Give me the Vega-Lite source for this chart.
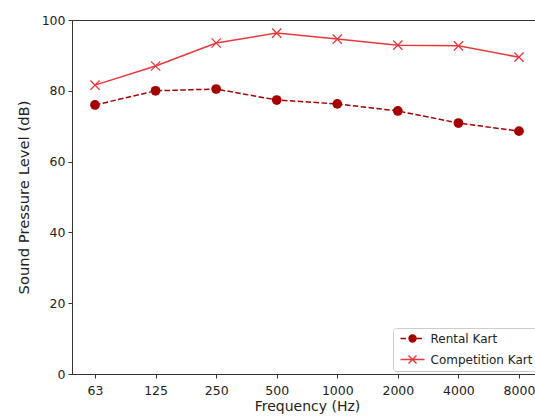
{
  "$schema": "https://vega.github.io/schema/vega-lite/v6.json",
  "width": 470,
  "height": 354,
  "autosize": {"type": "none"},
  "padding": {"left": 72, "top": 20, "right": 0, "bottom": 42},
  "background": "white",
  "config": {
    "font": "DejaVu Sans",
    "view": {"stroke": "#333333", "strokeWidth": 1},
    "axis": {
      "grid": false,
      "domainColor": "#333333",
      "domainWidth": 1,
      "tickColor": "#333333",
      "tickSize": 4,
      "tickWidth": 1,
      "labelFont": "DejaVu Sans",
      "labelFontSize": 12.5,
      "labelColor": "#222222",
      "titleFont": "DejaVu Sans",
      "titleFontWeight": "normal",
      "titleColor": "#222222"
    }
  },
  "data": {
    "values": [
      {"freq": "63", "series": "Rental Kart", "spl": 76.0},
      {"freq": "125", "series": "Rental Kart", "spl": 80.0},
      {"freq": "250", "series": "Rental Kart", "spl": 80.5},
      {"freq": "500", "series": "Rental Kart", "spl": 77.4},
      {"freq": "1000", "series": "Rental Kart", "spl": 76.3},
      {"freq": "2000", "series": "Rental Kart", "spl": 74.3},
      {"freq": "4000", "series": "Rental Kart", "spl": 70.9},
      {"freq": "8000", "series": "Rental Kart", "spl": 68.6},
      {"freq": "63", "series": "Competition Kart", "spl": 81.6},
      {"freq": "125", "series": "Competition Kart", "spl": 87.0},
      {"freq": "250", "series": "Competition Kart", "spl": 93.5},
      {"freq": "500", "series": "Competition Kart", "spl": 96.3},
      {"freq": "1000", "series": "Competition Kart", "spl": 94.6},
      {"freq": "2000", "series": "Competition Kart", "spl": 92.9},
      {"freq": "4000", "series": "Competition Kart", "spl": 92.7},
      {"freq": "8000", "series": "Competition Kart", "spl": 89.5}
    ]
  },
  "encoding": {
    "x": {
      "field": "freq",
      "type": "ordinal",
      "sort": ["63", "125", "250", "500", "1000", "2000", "4000", "8000"],
      "scale": {"type": "point", "padding": 0.38},
      "axis": {"title": "Frequency (Hz)", "labelAngle": 0, "labelPadding": 6, "titlePadding": 3, "titleFontSize": 14}
    },
    "y": {
      "field": "spl",
      "type": "quantitative",
      "scale": {"domain": [0, 100], "nice": false},
      "axis": {"title": "Sound Pressure Level (dB)", "values": [0, 20, 40, 60, 80, 100], "labelPadding": 3, "titlePadding": 10, "titleFontSize": 14.8}
    },
    "color": {
      "field": "series",
      "type": "nominal",
      "scale": {"domain": ["Rental Kart", "Competition Kart"], "range": ["#a50000", "#e8383d"]},
      "legend": {
        "title": null,
        "orient": "none",
        "legendX": 321,
        "legendY": 308,
        "padding": 4.5,
        "symbolOffset": 9,
        "symbolSize": 36,
        "symbolStrokeWidth": 1.4,
        "labelOffset": 12,
        "rowPadding": 7,
        "labelFontSize": 12,
        "labelFont": "DejaVu Sans",
        "labelColor": "#222222",
        "fillColor": "rgba(255,255,255,0.85)",
        "strokeColor": "#cccccc",
        "cornerRadius": 3,
        "encode": {
          "symbols": {
            "update": {
              "shape": {"signal": "datum.value === 'Rental Kart' ? 'M-4,0H-2.15M1.3,0H3.15M3.95,0H4M1.17,0A1.17,1.17 0 1,1 -1.17,0A1.17,1.17 0 1,1 1.17,0Z' : 'M-4,0H4M-1.33,-1.33L1.33,1.33M-1.33,1.33L1.33,-1.33'"},
              "fill": {"signal": "datum.value === 'Rental Kart' ? '#a50000' : 'transparent'"},
              "stroke": {"signal": "datum.value === 'Rental Kart' ? '#a50000' : '#e8383d'"},
              "size": {"value": 36},
              "strokeWidth": {"value": 1.4},
              "strokeDash": {"value": []},
              "opacity": {"value": 1}
            }
          }
        }
      }
    }
  },
  "layer": [
    {
      "transform": [{"filter": "datum.series === 'Rental Kart'"}],
      "mark": {"type": "line", "strokeWidth": 1.5, "strokeDash": [5.5, 2.4]}
    },
    {
      "transform": [{"filter": "datum.series === 'Competition Kart'"}],
      "mark": {"type": "line", "strokeWidth": 1.5}
    },
    {
      "transform": [{"filter": "datum.series === 'Rental Kart'"}],
      "mark": {"type": "point", "shape": "circle", "filled": true, "opacity": 1, "size": 95}
    },
    {
      "transform": [{"filter": "datum.series === 'Competition Kart'"}],
      "mark": {"type": "point", "shape": "M-1,-1L1,1M-1,1L1,-1", "filled": false, "opacity": 1, "strokeWidth": 1.3, "size": 85}
    }
  ]
}
